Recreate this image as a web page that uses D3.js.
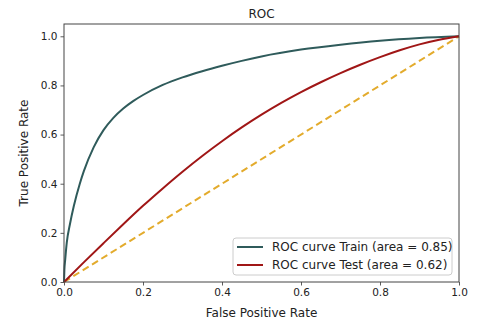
<!DOCTYPE html>
<html>
<head>
<meta charset="utf-8">
<script src="https://cdn.jsdelivr.net/npm/d3@7"></script>
<style>
  body { margin: 0; background: #fff; }
  text { font-family: "DejaVu Sans", sans-serif; fill: #222; }
</style>
</head>
<body>
<div id="chart"></div>
<script>
// ROC data
const trainFpr = [0, 0.001, 0.003, 0.007, 0.015, 0.025, 0.04, 0.05, 0.075, 0.1, 0.125, 0.15, 0.175, 0.2, 0.25, 0.3, 0.35, 0.4, 0.45, 0.5, 0.6, 0.7, 0.8, 0.9, 1.0];
const trainTpr = [0, 0.05, 0.09, 0.16, 0.235, 0.31, 0.4, 0.45, 0.548, 0.618, 0.668, 0.706, 0.736, 0.761, 0.802, 0.833, 0.858, 0.88, 0.9, 0.918, 0.946, 0.966, 0.982, 0.993, 1.0];
const testFpr = [0, 0.05, 0.1, 0.15, 0.2, 0.25, 0.3, 0.35, 0.4, 0.45, 0.5, 0.55, 0.6, 0.65, 0.7, 0.75, 0.8, 0.85, 0.9, 0.95, 1.0];
const testTpr = [0, 0.08, 0.158, 0.235, 0.31, 0.381, 0.449, 0.513, 0.573, 0.629, 0.681, 0.729, 0.773, 0.813, 0.85, 0.884, 0.915, 0.943, 0.967, 0.986, 1.0];
const chanceLine = [0, 1];
const tickValues = [0, 0.2, 0.4, 0.6, 0.8, 1.0];
const legendLabels = ["ROC curve Train (area = 0.85)", "ROC curve Test (area = 0.62)"];

const width = 477, height = 321;
const margin = { top: 24, right: 18, bottom: 39, left: 64 };
const w = width - margin.left - margin.right,
      h = height - margin.top - margin.bottom;

const svg = d3.select("#chart").append("svg")
    .attr("width", width)
    .attr("height", height);

const g = svg.append("g")
    .attr("transform", "translate(" + margin.left + "," + margin.top + ")");

// scales
const x = d3.scaleLinear().domain([0, 1]).range([0, 395]);
const y = d3.scaleLinear().domain([0, 1.05]).range([h, 0]);

// axes
const xAxis = d3.axisBottom(x).tickValues(tickValues).tickFormat(d3.format(".1f")).tickSize(3.5).tickPadding(3);
const yAxis = d3.axisLeft(y).tickValues(tickValues).tickFormat(d3.format(".1f")).tickSize(3.5).tickPadding(3);

const gx = g.append("g").attr("transform", "translate(0," + h + ")").call(xAxis);
const gy = g.append("g").call(yAxis);
[gx, gy].forEach(a => {
    a.select(".domain").remove();
    a.selectAll(".tick line").attr("stroke", "#333").attr("stroke-width", 0.8);
    a.selectAll(".tick text").style("font-size", "10.5px").attr("fill", "#222");
});

// lines
const line = d3.line()
    .x(d => x(d[0]))
    .y(d => y(d[1]))
    .curve(d3.curveMonotoneX);

g.append("path")
    .datum(chanceLine.map(v => [v, v]))
    .attr("d", line)
    .attr("fill", "none")
    .attr("stroke", "#e3ab2c")
    .attr("stroke-width", 2)
    .attr("stroke-dasharray", "7,4");

g.append("path")
    .datum(trainFpr.map((v, i) => [v, trainTpr[i]]))
    .attr("d", line)
    .attr("fill", "none")
    .attr("stroke", "#2f5b5b")
    .attr("stroke-width", 2);

g.append("path")
    .datum(testFpr.map((v, i) => [v, testTpr[i]]))
    .attr("d", line)
    .attr("fill", "none")
    .attr("stroke", "#a01616")
    .attr("stroke-width", 2);

// frame
g.append("rect")
    .attr("x", 0).attr("y", 0)
    .attr("width", w).attr("height", h)
    .attr("fill", "none")
    .attr("stroke", "#444")
    .attr("stroke-width", 1);

// title and axis labels
svg.append("text")
    .attr("x", margin.left + w / 2)
    .attr("y", 18)
    .attr("text-anchor", "middle")
    .style("font-size", "12px")
    .text("ROC");

svg.append("text")
    .attr("x", margin.left + w / 2)
    .attr("y", 317)
    .attr("text-anchor", "middle")
    .style("font-size", "12px")
    .text("False Positive Rate");

svg.append("text")
    .attr("transform", "translate(28," + (margin.top + h / 2) + ") rotate(-90)")
    .attr("text-anchor", "middle")
    .style("font-size", "12px")
    .text("True Positive Rate");

// legend
const legendColors = ["#2f5b5b", "#a01616"];
const legend = g.append("g").attr("transform", "translate(169,214)");
legend.append("rect")
    .attr("x", 0).attr("y", 0)
    .attr("width", 219).attr("height", 37)
    .attr("rx", 3)
    .attr("fill", "#fff")
    .attr("fill-opacity", 0.8)
    .attr("stroke", "#ccc");

legendLabels.forEach((lab, i) => {
    const row = legend.append("g").attr("transform", "translate(0," + (9 + i * 18) + ")");
    row.append("line")
        .attr("x1", 4).attr("x2", 30)
        .attr("y1", 0).attr("y2", 0)
        .attr("stroke", legendColors[i])
        .attr("stroke-width", 2);
    row.append("text")
        .attr("x", 39)
        .attr("y", 4.3)
        .style("font-size", "12px")
        .text(lab);
});
</script>
</body>
</html>
